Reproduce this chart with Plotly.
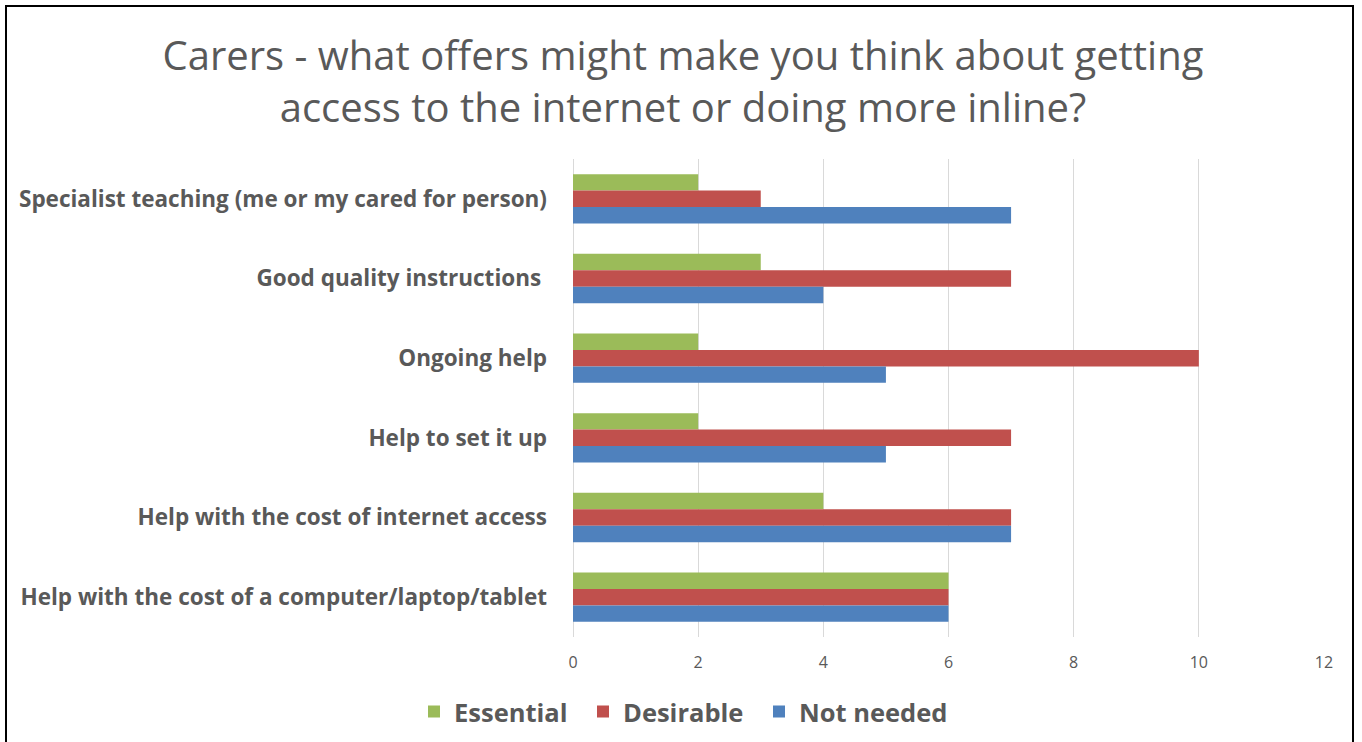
import plotly.graph_objects as go

# Survey responses, listed top to bottom as shown on the chart
categories = [
    "Specialist teaching (me or my cared for person)",
    "Good quality instructions ",
    "Ongoing help",
    "Help to set it up",
    "Help with the cost of internet access",
    "Help with the cost of a computer/laptop/tablet",
]
essential = [2, 3, 2, 2, 4, 6]
desirable = [3, 7, 10, 7, 7, 6]
not_needed = [7, 4, 5, 5, 7, 6]

series = [
    ("Essential", essential, "#9BBB59"),
    ("Desirable", desirable, "#C0504D"),
    ("Not needed", not_needed, "#4F81BD"),
]

W, H = 1362, 742
L, R, T, B = 573, 38, 159, 105

font = "'Open Sans', Lato, sans-serif"

# each series gets its own legend box so the entries can be spaced freely
legend_ids = ["legend", "legend2", "legend3"]
legend_left = [414, 583, 759]

fig = go.Figure()
for (name, vals, color), lid in zip(series, legend_ids):
    fig.add_trace(go.Bar(
        y=categories, x=vals, name=name, orientation="h",
        marker=dict(color=color, line=dict(width=0)),
        legend=lid, showlegend=True,
    ))

legend_style = dict(
    orientation="h", xref="container", xanchor="left",
    yref="container", y=1 - 712 / H, yanchor="middle",
    font=dict(family=font, size=25.5, color="#595959", weight="bold"),
    itemwidth=30, bgcolor="rgba(0,0,0,0)",
)
legends = {lid: dict(legend_style, x=px / W) for lid, px in zip(legend_ids, legend_left)}

fig.update_layout(
    width=W, height=H,
    margin=dict(l=L, r=R, t=T, b=B),
    paper_bgcolor="white", plot_bgcolor="white",
    showlegend=True,
    barmode="group", bargap=0.38, bargroupgap=0,
    title=dict(
        text="Carers - what offers might make you think about getting<br>access to the internet or doing more inline?",
        x=683 / W, xanchor="center", xref="container",
        y=1 - 70 / H, yanchor="top", yref="container",
        font=dict(family=font, size=40, color="#595959"),
    ),
    xaxis=dict(
        range=[0, 12], dtick=2, tick0=0,
        showgrid=True, gridcolor="#D9D9D9", gridwidth=1,
        zeroline=True, zerolinecolor="#D9D9D9", zerolinewidth=1,
        showline=False, ticks="",
        tickfont=dict(family=font, size=16, color="#595959"),
        ticklabelstandoff=14,
        fixedrange=True,
    ),
    yaxis=dict(
        autorange="reversed", showgrid=False, zeroline=False,
        showline=False, ticks="",
        tickfont=dict(family=font, size=22.5, color="#595959", weight="bold"),
        ticklabelstandoff=25,
    ),
    shapes=[dict(
        type="rect", xref="paper", yref="paper",
        x0=(6 - L) / (W - L - R), x1=(1353 - L) / (W - L - R),
        y0=(H - B - 760) / (H - T - B), y1=(H - B - 6) / (H - T - B),
        line=dict(color="black", width=2), fillcolor="rgba(0,0,0,0)",
        layer="below",
    )],
    **legends,
)

fig.write_html("out.html")
